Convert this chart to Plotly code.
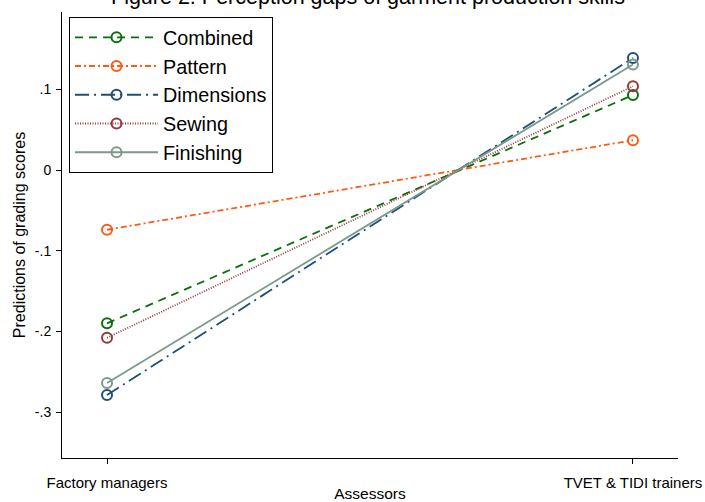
import plotly.graph_objects as go

assessors = ["Factory managers", "TVET & TIDI trainers"]
x_pos = [0, 1]
series_names = ["Combined", "Pattern", "Dimensions", "Sewing", "Finishing"]
combined = [-0.190, 0.093]
pattern = [-0.074, 0.037]
dimensions = [-0.279, 0.139]
sewing = [-0.208, 0.104]
finishing = [-0.264, 0.131]
y_ticks = [0.1, 0, -0.1, -0.2, -0.3]
y_tick_labels = [".1", "0", "-.1", "-.2", "-.3"]

styles = {
    "Combined": dict(color="#0b6e0b", dash="8px,6px"),
    "Pattern": dict(color="#ff5a14", dash="6px,3px,2px,3px"),
    "Dimensions": dict(color="#1f4e79", dash="14px,5px,2px,5px"),
    "Sewing": dict(color="#93393d", dash="1px,1.5px"),
    "Finishing": dict(color="#7a9a8a", dash="solid"),
}
values = [combined, pattern, dimensions, sewing, finishing]

fig = go.Figure()
for name, vals in zip(series_names, values):
    st = styles[name]
    fig.add_trace(go.Scatter(
        x=x_pos, y=vals, name=name, legendgroup=name, mode="lines+markers",
        line=dict(color=st["color"], dash=st["dash"], width=1.8),
        marker=dict(symbol="circle-open", size=10, color=st["color"], line=dict(width=2)),
    ))

fig.update_layout(
    width=705, height=502,
    margin=dict(l=62, r=27, t=12, b=44),
    paper_bgcolor="white", plot_bgcolor="white",
    font=dict(family="Liberation Sans, Arial, sans-serif", color="black", size=13),
    showlegend=True,
    legend=dict(
        x=0.0114, y=0.989, xanchor="left", yanchor="top",
        bgcolor="white", bordercolor="black", borderwidth=1,
        font=dict(size=19.8), itemwidth=83, tracegroupgap=0,
    ),
    annotations=[dict(
        text="Figure 2: Perception gaps of garment production skills",
        xref="paper", yref="paper", x=0.496, y=1.033, xanchor="center", yanchor="middle",
        showarrow=False, font=dict(size=21.5),
    )],
)
fig.update_xaxes(
    range=[-0.0856, 1.0856], tickvals=x_pos, ticktext=assessors,
    showline=True, linecolor="black", linewidth=1, showgrid=False, zeroline=False,
    ticks="outside", ticklen=5, tickcolor="black", tickfont=dict(size=15),
    ticklabelstandoff=6, automargin=False,
    title=dict(text="Assessors", standoff=4, font=dict(size=15.5)),
)
fig.update_yaxes(
    range=[-0.357, 0.196], tickvals=y_ticks, ticktext=y_tick_labels,
    showline=True, linecolor="black", linewidth=1, showgrid=False, zeroline=False,
    ticks="outside", ticklen=5, tickcolor="black", tickfont=dict(size=14),
    ticklabelstandoff=2, automargin=False,
    title=dict(text="Predictions of grading scores", standoff=5, font=dict(size=16)),
)

fig.write_html(
    "out.html",
    config={"displayModeBar": False},
    post_script="document.body.style.margin='0';document.body.style.overflow='hidden';",
)
